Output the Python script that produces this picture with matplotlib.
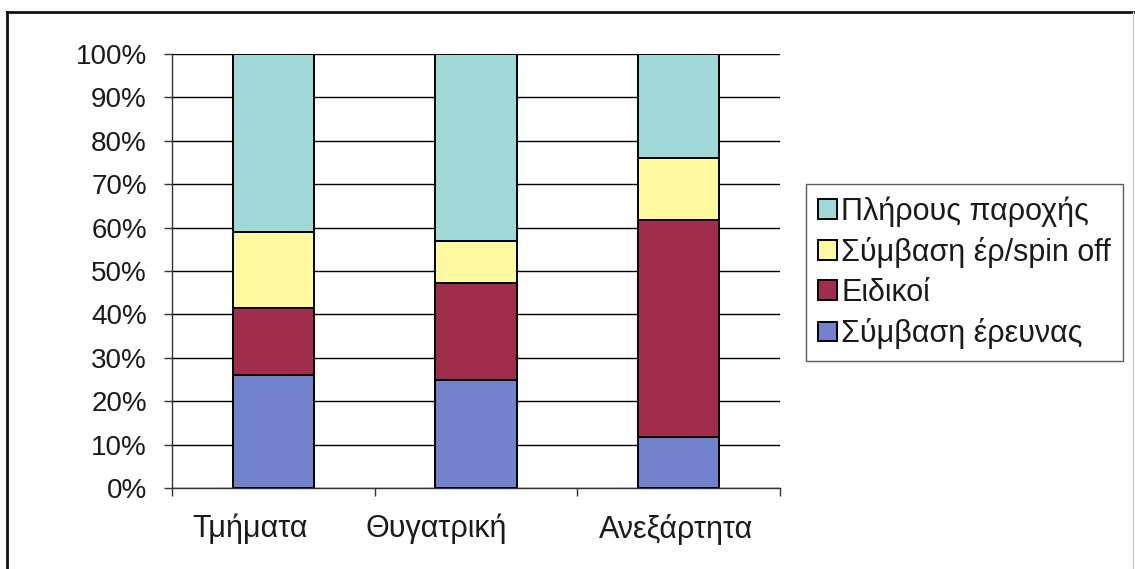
import matplotlib
matplotlib.use("Agg")
import matplotlib.pyplot as plt
import matplotlib.transforms as mtransforms
import numpy as np
from matplotlib.lines import Line2D

plt.rcParams['font.family'] = ['Liberation Sans', 'DejaVu Sans']

categories = ['Τμήματα', 'Θυγατρική', 'Ανεξάρτητα']
series_names = ['Σύμβαση έρευνας', 'Ειδικοί', 'Σύμβαση έρ/spin off', 'Πλήρους παροχής']
research_contract = [26.1, 24.8, 11.7]
specialists = [15.3, 22.5, 50.1]
spinoff_contract = [17.5, 9.5, 14.2]
full_service = [41.1, 43.2, 24.0]
colors = ['#7382CD', '#A02D4B', '#FFFAA0', '#A0D7D7']
y_ticks = [0, 10, 20, 30, 40, 50, 60, 70, 80, 90, 100]
y_tick_labels = [f'{v}%' for v in y_ticks]

fig = plt.figure(figsize=(11.35, 5.69), dpi=100)
ax = fig.add_axes([172 / 1135, 81 / 569, 608 / 1135, 434 / 569])

x = np.arange(len(categories))
bottom = np.zeros(len(categories))
for name, vals, col in zip(series_names,
                           [research_contract, specialists, spinoff_contract, full_service],
                           colors):
    ax.bar(x, vals, width=0.4, bottom=bottom, color=col, edgecolor='black',
           linewidth=1.4, zorder=3, label=name)
    bottom += np.array(vals)

ax.set_xlim(-0.5, 2.5)
ax.set_ylim(0, 100)
ax.set_yticks(y_ticks)
ax.set_yticklabels(y_tick_labels, fontsize=20, color='#1a1a1a')
ax.yaxis.grid(True, color='black', linewidth=1.0, zorder=0)
ax.set_axisbelow(True)

# category labels sit slightly left of the bar centres
ax.set_xticks([])
label_shift_px = [-23, -40, -3]
base = mtransforms.blended_transform_factory(ax.transData, ax.transAxes)
for xi, name, dx in zip(x, categories, label_shift_px):
    tr = base + mtransforms.ScaledTranslation(dx / 100, -26 / 100, fig.dpi_scale_trans)
    ax.text(xi, 0, name, transform=tr, ha='center', va='top', fontsize=22, color='#1a1a1a')

ax.set_xticks([-0.5, 0.5, 1.5, 2.5], minor=True)
ax.tick_params(axis='x', which='minor', length=6, width=1, color='#333333', direction='out')
ax.tick_params(axis='y', length=6, width=1, color='#333333', pad=12)

for side in ['top', 'right']:
    ax.spines[side].set_visible(False)
for side in ['left', 'bottom']:
    ax.spines[side].set_color('#333333')
    ax.spines[side].set_linewidth(1.0)

handles, labels = ax.get_legend_handles_labels()
leg = fig.legend(handles[::-1], labels[::-1], loc='upper left',
                 bbox_to_anchor=(806 / 1135, 1 - 184 / 569),
                 fontsize=22, frameon=True, fancybox=False, edgecolor='#333333',
                 handlelength=0.6, handleheight=0.6, handletextpad=0.15,
                 labelspacing=0.33, borderpad=0.4, borderaxespad=0)
leg.get_frame().set_linewidth(1.0)
for t in leg.get_texts():
    t.set_color('#1a1a1a')

# outer frame of the figure
fig.add_artist(Line2D([7 / 1135, 7 / 1135], [0, 1 - 12 / 569], transform=fig.transFigure,
                      color='#111111', linewidth=2.0))
fig.add_artist(Line2D([7 / 1135, 1], [1 - 12 / 569, 1 - 12 / 569], transform=fig.transFigure,
                      color='#111111', linewidth=2.0))
fig.add_artist(Line2D([1133 / 1135, 1133 / 1135], [0, 1 - 12 / 569], transform=fig.transFigure,
                      color='#cccccc', linewidth=1.0))

fig.savefig('out.png', dpi=100)
